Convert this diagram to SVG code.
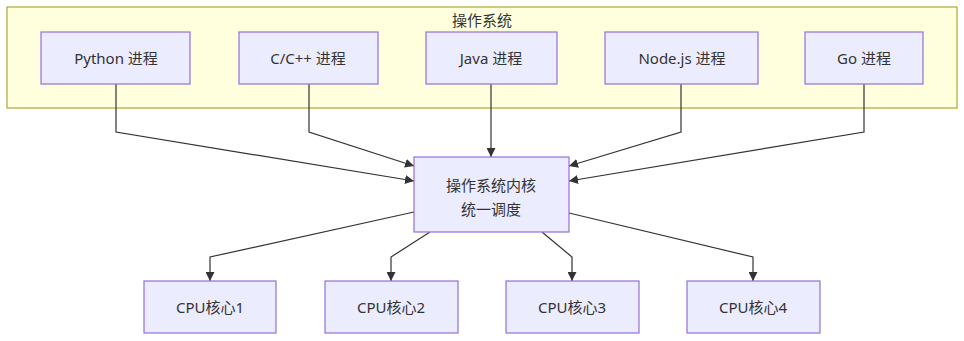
<svg xmlns="http://www.w3.org/2000/svg" width="964" height="341" viewBox="0 0 964 341">
<defs>
<style>
.node rect{fill:#ECECFF;stroke:#9370DB;stroke-width:1.2}
.cluster rect{fill:#ffffde;stroke:#aaaa33;stroke-width:1.2}
text{font-family:"Noto Sans","Noto Sans CJK SC",sans-serif;font-size:15px;fill:#333;text-anchor:middle;dominant-baseline:central}
.edges path{fill:none;stroke:#333;stroke-width:1.2;marker-end:url(#arr)}
</style>
<marker id="arr" viewBox="0 0 10 10" refX="10" refY="5" markerWidth="9" markerHeight="9" markerUnits="userSpaceOnUse" orient="auto">
<path d="M0,0 L10,5 L0,10 z" fill="#333"/>
</marker>
</defs>
<rect width="964" height="341" fill="#fff"/>
<g id="cluster-os" class="cluster">
<rect x="7" y="7" width="950" height="101"/>
<text x="482" y="20">操作系统</text>
</g>
<g class="edges">
<path d="M116,84 L116,132 L414,181"/>
<path d="M309,84 L309,132 L414,166"/>
<path d="M491,84 L491,157"/>
<path d="M681,84 L681,132 L569,166"/>
<path d="M864,84 L864,132 L569,181"/>
<path d="M414,212 L210,257 L210,281"/>
<path d="M430,232 L391,257 L391,281"/>
<path d="M542,232 L572,257 L572,281"/>
<path d="M569,213 L753,257 L753,281"/>
</g>
<g id="python" class="node"><rect x="41" y="32" width="149" height="52"/><text x="116" y="58">Python 进程</text></g>
<g id="cpp" class="node"><rect x="239" y="32" width="139" height="52"/><text x="308" y="58">C/C++ 进程</text></g>
<g id="java" class="node"><rect x="426" y="32" width="131" height="52"/><text x="491" y="58">Java 进程</text></g>
<g id="node" class="node"><rect x="605" y="32" width="153" height="52"/><text x="682" y="58">Node.js 进程</text></g>
<g id="go" class="node"><rect x="805" y="32" width="118" height="52"/><text x="864" y="58">Go 进程</text></g>
<g id="kernel" class="node"><rect x="414" y="157" width="155" height="75"/><text x="491" y="185">操作系统内核</text><text x="491" y="209">统一调度</text></g>
<g id="cpu1" class="node"><rect x="144" y="281" width="132" height="52"/><text x="210" y="307">CPU核心1</text></g>
<g id="cpu2" class="node"><rect x="325" y="281" width="133" height="52"/><text x="391" y="307">CPU核心2</text></g>
<g id="cpu3" class="node"><rect x="506" y="281" width="133" height="52"/><text x="572" y="307">CPU核心3</text></g>
<g id="cpu4" class="node"><rect x="687" y="281" width="133" height="52"/><text x="753" y="307">CPU核心4</text></g>
</svg>
